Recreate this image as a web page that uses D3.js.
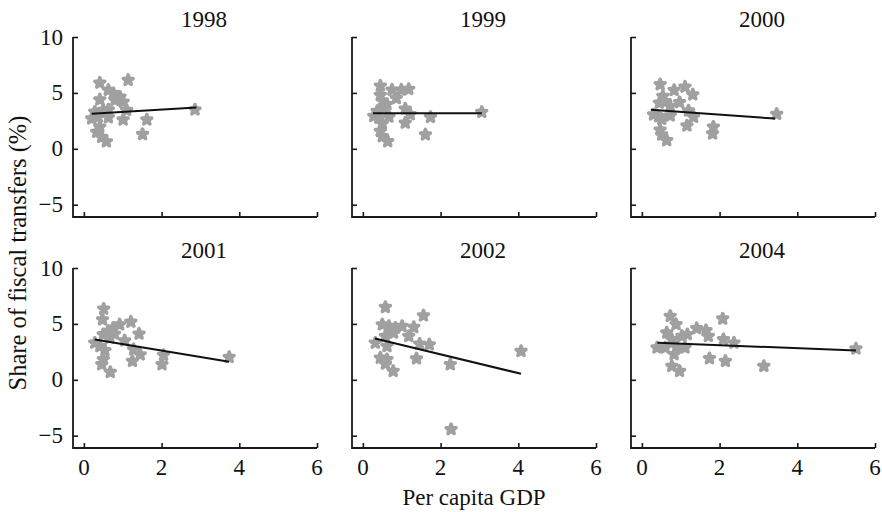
<!DOCTYPE html>
<html>
<head>
<meta charset="utf-8">
<script src="https://cdn.jsdelivr.net/npm/d3@7"></script>
<style>
  html, body { margin: 0; padding: 0; background: #fff; }
  svg { display: block; }
  text { font-family: "Liberation Serif", "Times New Roman", serif; fill: #111; }
</style>
</head>
<body>
<svg id="chart" width="882" height="512"></svg>
<script>
// Panel years
const years = ["1998", "1999", "2000", "2001", "2002", "2004"];

// Per capita GDP (x) and share of fiscal transfers in % (y), one pair of arrays per year
const gdp1998   = [0.41, 1.14, 0.63, 0.76, 0.41, 0.93, 1.01, 0.80, 0.50, 0.63, 0.28, 1.10, 0.20, 0.37, 0.63, 1.01, 1.62, 0.41, 0.33, 0.46, 0.58, 1.51, 2.86];
const share1998 = [5.90, 6.15, 5.25, 4.95, 4.40, 4.65, 4.20, 4.35, 3.45, 3.50, 3.30, 3.45, 2.70, 2.85, 2.80, 2.60, 2.60, 1.95, 1.50, 1.05, 0.65, 1.30, 3.50];

const gdp1999   = [0.45, 0.75, 0.99, 1.18, 0.45, 0.86, 0.50, 0.62, 0.54, 1.09, 0.37, 0.28, 0.41, 0.67, 1.22, 1.74, 0.50, 1.09, 0.45, 0.50, 0.64, 1.61, 3.06];
const share1999 = [5.63, 5.27, 5.27, 5.33, 4.79, 4.52, 4.28, 3.98, 3.67, 3.58, 3.37, 2.92, 2.77, 2.86, 3.07, 2.83, 2.26, 2.32, 1.57, 1.11, 0.66, 1.27, 3.28];

const gdp2000   = [0.47, 0.83, 1.11, 1.31, 0.54, 0.45, 0.60, 0.97, 0.73, 0.30, 0.43, 0.51, 0.73, 1.20, 1.33, 1.16, 1.84, 1.82, 0.47, 0.51, 0.64, 3.47];
const share2000 = [5.75, 5.24, 5.54, 4.85, 4.70, 4.10, 4.25, 4.16, 3.80, 3.05, 2.90, 2.66, 2.96, 3.41, 2.84, 2.07, 1.95, 1.35, 1.70, 1.26, 0.75, 3.11];

const gdp2001   = [0.51, 0.48, 1.21, 0.92, 0.75, 0.62, 0.79, 1.42, 0.50, 0.67, 1.05, 0.28, 0.41, 0.54, 1.28, 1.45, 2.05, 0.50, 0.46, 1.25, 2.01, 0.68, 3.74];
const share2001 = [6.34, 5.39, 5.18, 4.94, 4.64, 4.35, 4.11, 4.11, 4.05, 3.75, 3.51, 3.30, 3.00, 2.62, 2.71, 2.26, 2.20, 1.82, 1.37, 1.67, 1.37, 0.68, 2.02];

const gdp2002   = [0.58, 1.56, 0.50, 0.67, 0.84, 1.01, 1.31, 0.79, 0.58, 1.18, 0.32, 0.62, 1.46, 1.71, 0.45, 0.62, 0.58, 1.38, 2.25, 0.78, 4.07, 2.27];
const share2002 = [6.49, 5.74, 4.94, 4.79, 4.64, 4.79, 4.70, 4.20, 3.90, 3.90, 3.30, 3.00, 3.21, 3.15, 1.96, 1.82, 1.43, 1.90, 1.37, 0.77, 2.56, -4.43];

const gdp2004   = [0.73, 2.08, 0.88, 1.41, 1.65, 0.64, 1.17, 1.03, 1.71, 0.77, 2.10, 2.37, 0.39, 0.60, 0.90, 1.11, 0.83, 1.74, 2.15, 0.77, 0.97, 3.14, 5.51];
const share2004 = [5.70, 5.46, 4.96, 4.60, 4.42, 4.21, 4.06, 3.91, 3.91, 3.61, 3.61, 3.31, 2.87, 2.87, 2.93, 2.87, 2.27, 1.91, 1.67, 1.22, 0.78, 1.22, 2.78];

// Fitted line end points [[x0, y0], [x1, y1]] per year
const fit1998 = [[0.20, 3.13], [2.90, 3.70]];
const fit1999 = [[0.26, 3.19], [3.06, 3.19]];
const fit2000 = [[0.23, 3.50], [3.43, 2.70]];
const fit2001 = [[0.28, 3.60], [3.74, 1.61]];
const fit2002 = [[0.31, 3.69], [4.07, 0.54]];
const fit2004 = [[0.40, 3.31], [5.51, 2.63]];

// Axis ticks
const xTicks = [0, 2, 4, 6];
const yTicks = [10, 5, 0, -5];

const gdpByYear   = [gdp1998, gdp1999, gdp2000, gdp2001, gdp2002, gdp2004];
const shareByYear = [share1998, share1999, share2000, share2001, share2002, share2004];
const fitByYear   = [fit1998, fit1999, fit2000, fit2001, fit2002, fit2004];

const svg = d3.select("#chart");

// Panel geometry
const panelW = 244, panelH = 180;
const colLeft = [73, 352, 631];
const rowTop = [37, 268];
const axisColor = "#1a1a1a";
const pointColor = "#a0a0a0";

const x = d3.scaleLinear().domain([-0.28, 6]).range([0, panelW]);
const y = d3.scaleLinear().domain([-6.1, 10]).range([panelH, 0]);

// Rounded star markers
const star = d3.symbol().type(d3.symbolStar).size(30);

years.forEach((yr, i) => {
  const col = i % 3, row = Math.floor(i / 3);
  const g = svg.append("g")
    .attr("transform", `translate(${colLeft[col]},${rowTop[row]})`);

  // Year title
  g.append("text")
    .attr("x", panelW / 2 + 9)
    .attr("y", -18)
    .attr("text-anchor", "middle")
    .attr("dominant-baseline", "central")
    .style("font-size", "23px")
    .text(yr);

  // Points
  const pts = gdpByYear[i].map((v, k) => [v, shareByYear[i][k]]);
  g.append("g").selectAll("path")
    .data(pts)
    .join("path")
    .attr("transform", d => `translate(${x(d[0])},${y(d[1])})`)
    .attr("d", star)
    .attr("fill", pointColor)
    .attr("stroke", pointColor)
    .attr("stroke-width", 3.6)
    .attr("stroke-linejoin", "round");

  // Fitted line
  g.append("path")
    .datum(fitByYear[i])
    .attr("d", d3.line().x(d => x(d[0])).y(d => y(d[1])))
    .attr("fill", "none")
    .attr("stroke", "#111")
    .attr("stroke-width", 2);

  // Y axis: ticks pointing inward
  const yAxis = d3.axisRight(y).tickValues(yTicks).tickSize(5).tickFormat("");
  const ya = g.append("g").call(yAxis);
  ya.select(".domain").remove();
  ya.selectAll("line").attr("stroke", axisColor).attr("stroke-width", 1.6);

  // X axis: ticks pointing upward
  const xAxis = d3.axisTop(x).tickValues(xTicks).tickSize(5).tickFormat("");
  const xa = g.append("g").attr("transform", `translate(0,${panelH})`).call(xAxis);
  xa.select(".domain").remove();
  xa.selectAll("line").attr("stroke", axisColor).attr("stroke-width", 1.6);

  // L-shaped frame
  g.append("path")
    .attr("d", `M0,${y(10)}V${panelH}H${x(6)}`)
    .attr("fill", "none")
    .attr("stroke", axisColor)
    .attr("stroke-width", 1.8);

  // Tick labels on the outer panels only
  if (col === 0) {
    g.append("g").selectAll("text")
      .data(yTicks)
      .join("text")
      .attr("x", -10)
      .attr("y", d => y(d))
      .attr("text-anchor", "end")
      .attr("dominant-baseline", "central")
      .style("font-size", "23px")
      .text(d => d < 0 ? "\u2212" + Math.abs(d) : d);
  }
  if (row === 1) {
    g.append("g").selectAll("text")
      .data(xTicks)
      .join("text")
      .attr("x", d => x(d))
      .attr("y", panelH + 19)
      .attr("text-anchor", "middle")
      .attr("dominant-baseline", "central")
      .style("font-size", "23px")
      .text(d => d);
  }
});

// Axis titles
svg.append("text")
  .attr("x", 474)
  .attr("y", 497)
  .attr("text-anchor", "middle")
  .attr("dominant-baseline", "central")
  .style("font-size", "23px")
  .text("Per capita GDP");

svg.append("text")
  .attr("transform", "translate(17,253) rotate(-90)")
  .attr("text-anchor", "middle")
  .attr("dominant-baseline", "central")
  .style("font-size", "24.5px")
  .text("Share of fiscal transfers (%)");
</script>
</body>
</html>
